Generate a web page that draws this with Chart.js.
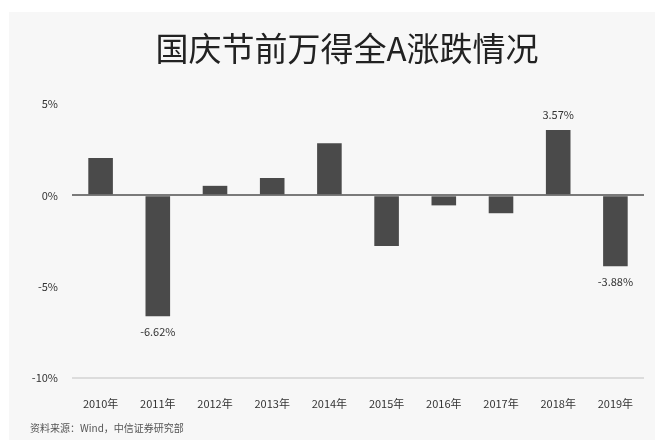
<!DOCTYPE html>
<html>
<head>
<meta charset="utf-8">
<script src="https://cdn.jsdelivr.net/npm/chart.js@4"></script>
<style>
  html, body { margin: 0; padding: 0; background: #ffffff; }
  #box { position: absolute; left: 9px; top: 12px; width: 646px; height: 428px; background: #f7f7f7; }
</style>
</head>
<body>
<div id="box"><canvas id="c" width="646" height="428"></canvas></div>
<script>
// 数据
var years = ['2010年', '2011年', '2012年', '2013年', '2014年', '2015年', '2016年', '2017年', '2018年', '2019年'];
var changes = [2.05, -6.62, 0.52, 0.95, 2.85, -2.78, -0.55, -0.98, 3.57, -3.88];
var shownLabels = ['', '-6.62%', '', '', '', '', '', '', '3.57%', '-3.88%'];
var yTicks = [5, 0, -5, -10];

var FONT = '"Noto Sans CJK SC", "Noto Sans", sans-serif';

// 标题、数据标签、来源
var extras = {
  id: 'extras',
  afterDatasetsDraw: function (chart) {
    var ctx = chart.ctx;
    ctx.save();
    ctx.fillStyle = '#222';
    ctx.font = '33px ' + FONT;
    ctx.textAlign = 'center';
    ctx.textBaseline = 'middle';
    ctx.fillText('国庆节前万得全A涨跌情况', 338, 36);

    ctx.font = '11px ' + FONT;
    ctx.fillStyle = '#333';
    var meta = chart.getDatasetMeta(0);
    meta.data.forEach(function (bar, i) {
      if (!shownLabels[i]) return;
      var v = changes[i];
      var y = v >= 0 ? bar.y - 15 : bar.y + 16;
      ctx.fillText(shownLabels[i], bar.x, y);
    });

    ctx.textAlign = 'left';
    ctx.fillStyle = '#555';
    ctx.font = '10px ' + FONT;
    ctx.fillText('资料来源：Wind，中信证券研究部', 21, 416);
    ctx.restore();
  }
};

new Chart(document.getElementById('c'), {
  type: 'bar',
  data: {
    labels: years,
    datasets: [{
      data: changes,
      backgroundColor: '#4a4a4a',
      barPercentage: 0.43,
      categoryPercentage: 1.0
    }]
  },
  options: {
    responsive: false,
    animation: false,
    layout: { padding: { top: 92, right: 11, bottom: 22, left: 0 } },
    plugins: { legend: { display: false }, tooltip: { enabled: false }, title: { display: false } },
    scales: {
      x: {
        grid: { display: false },
        border: { display: false },
        ticks: { color: '#333', font: { size: 11, family: FONT }, padding: 11, maxRotation: 0 },
        afterFit: function (s) { s.height = 40; }
      },
      y: {
        min: -10,
        max: 5,
        afterBuildTicks: function (s) { s.ticks = yTicks.map(function (v) { return { value: v }; }); },
        grid: {
          drawTicks: false,
          color: function (c) {
            if (c.tick.value === 0) return '#7a7a7a';
            if (c.tick.value === -10) return '#dcdcdc';
            return 'rgba(0,0,0,0)';
          },
          lineWidth: 2
        },
        border: { display: false },
        ticks: {
          color: '#333',
          font: { size: 11, family: FONT },
          padding: 14,
          callback: function (v) { return v + '%'; }
        },
        afterFit: function (s) { s.width = 63; }
      }
    }
  },
  plugins: [extras]
});
</script>
</body>
</html>
